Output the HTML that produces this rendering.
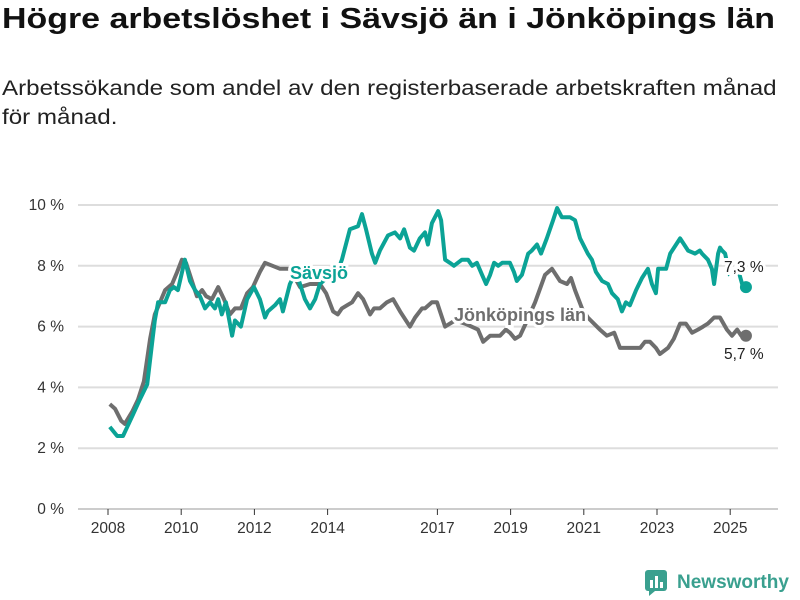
<!DOCTYPE html>
<html><head><meta charset="utf-8"><style>
body{margin:0;width:800px;height:600px;background:#fff;font-family:"Liberation Sans",sans-serif;overflow:hidden;position:relative}
#title{position:absolute;left:2px;top:3px;font-size:29px;font-weight:bold;color:#111;white-space:nowrap;transform:scaleX(1.17);transform-origin:left top}
#sub{position:absolute;left:2px;top:74px;font-size:21px;line-height:29px;color:#222;width:680px;transform:scaleX(1.15);transform-origin:left top}
svg{position:absolute;left:0;top:0}
</style></head><body>
<div id="title">Högre arbetslöshet i Sävsjö än i Jönköpings län</div>
<div id="sub">Arbetssökande som andel av den registerbaserade arbetskraften månad för månad.</div>
<svg id="chart" width="800" height="600"></svg>
<script>
const savsjoYears=[2008.05,2008.25,2008.41,2008.68,2008.87,2009.07,2009.20,2009.28,2009.37,2009.45,2009.56,2009.69,2009.80,2009.91,2010.10,2010.24,2010.38,2010.51,2010.65,2010.79,2010.92,2011.01,2011.11,2011.22,2011.33,2011.39,2011.47,2011.63,2011.80,2011.99,2012.15,2012.29,2012.37,2012.56,2012.70,2012.78,2012.97,2013.14,2013.38,2013.52,2013.66,2013.79,2014.07,2014.20,2014.39,2014.61,2014.83,2014.94,2015.05,2015.21,2015.30,2015.43,2015.65,2015.84,2015.98,2016.09,2016.25,2016.36,2016.52,2016.66,2016.74,2016.85,2017.02,2017.10,2017.21,2017.34,2017.45,2017.67,2017.84,2017.95,2018.08,2018.22,2018.33,2018.44,2018.55,2018.66,2018.77,2018.98,2019.09,2019.17,2019.31,2019.48,2019.58,2019.72,2019.83,2019.99,2020.16,2020.27,2020.40,2020.62,2020.76,2020.90,2021.11,2021.22,2021.33,2021.50,2021.66,2021.77,2021.93,2022.04,2022.15,2022.26,2022.43,2022.59,2022.75,2022.86,2022.97,2023.03,2023.25,2023.36,2023.63,2023.85,2024.04,2024.17,2024.23,2024.39,2024.50,2024.56,2024.67,2024.72,2024.78,2024.86,2024.99,2025.10,2025.21,2025.35,2025.43];
const savsjoValues=[2.7,2.4,2.4,3.1,3.6,4.1,5.4,6.2,6.8,6.8,6.8,7.2,7.3,7.2,8.2,7.5,7.2,7.0,6.6,6.8,6.6,6.9,6.4,6.8,6.1,5.7,6.2,6.0,6.9,7.3,6.9,6.3,6.5,6.7,6.9,6.5,7.4,7.8,6.9,6.6,6.9,7.4,7.7,7.6,8.2,9.2,9.3,9.7,9.2,8.4,8.1,8.5,9.0,9.1,8.9,9.2,8.6,8.5,8.9,9.1,8.7,9.4,9.8,9.5,8.2,8.1,8.0,8.2,8.2,8.0,8.1,7.7,7.4,7.7,8.1,8.0,8.1,8.1,7.8,7.5,7.7,8.4,8.5,8.7,8.4,8.9,9.5,9.9,9.6,9.6,9.5,8.9,8.4,8.2,7.8,7.5,7.4,7.1,6.9,6.5,6.8,6.7,7.2,7.6,7.9,7.4,7.1,7.9,7.9,8.4,8.9,8.5,8.4,8.5,8.4,8.2,7.9,7.4,8.4,8.6,8.5,8.4,7.7,7.7,7.9,7.3,7.3];
const lanYears=[2008.05,2008.19,2008.36,2008.46,2008.66,2008.82,2008.98,2009.15,2009.28,2009.42,2009.56,2009.75,2009.89,2010.02,2010.13,2010.32,2010.43,2010.57,2010.68,2010.84,2011.01,2011.17,2011.33,2011.47,2011.63,2011.80,2011.96,2012.15,2012.29,2012.70,2012.97,2013.25,2013.52,2013.79,2013.96,2014.15,2014.28,2014.39,2014.53,2014.67,2014.83,2014.97,2015.16,2015.27,2015.43,2015.62,2015.79,2015.98,2016.25,2016.39,2016.58,2016.66,2016.85,2016.99,2017.07,2017.21,2017.48,2017.75,2018.11,2018.25,2018.44,2018.71,2018.87,2018.98,2019.12,2019.26,2019.45,2019.67,2019.94,2020.13,2020.35,2020.54,2020.65,2020.76,2020.95,2021.11,2021.44,2021.63,2021.83,2021.99,2022.21,2022.54,2022.67,2022.81,2022.97,2023.08,2023.30,2023.46,2023.63,2023.79,2023.96,2024.12,2024.26,2024.39,2024.56,2024.72,2024.91,2025.05,2025.19,2025.30,2025.43];
const lanValues=[3.45,3.3,2.9,2.8,3.2,3.6,4.2,5.6,6.4,6.8,7.2,7.4,7.8,8.2,8.1,7.4,7.0,7.2,7.0,6.9,7.3,6.9,6.4,6.6,6.6,7.1,7.3,7.8,8.1,7.9,7.9,7.3,7.4,7.4,7.1,6.5,6.4,6.6,6.7,6.8,7.1,6.9,6.4,6.6,6.6,6.8,6.9,6.5,6.0,6.3,6.6,6.6,6.8,6.8,6.5,6.0,6.2,6.1,5.9,5.5,5.7,5.7,5.9,5.8,5.6,5.7,6.2,6.8,7.7,7.9,7.5,7.4,7.6,7.2,6.6,6.3,5.9,5.7,5.8,5.3,5.3,5.3,5.5,5.5,5.3,5.1,5.3,5.6,6.1,6.1,5.8,5.9,6.0,6.1,6.3,6.3,5.9,5.7,5.9,5.7,5.7];
const yTicks=[0,2,4,6,8,10];
const xTicks=[2008,2010,2012,2014,2017,2019,2021,2023,2025];

const NS='http://www.w3.org/2000/svg';
const svg=document.getElementById('chart');
const X=y=>108+(y-2008)*36.6;
const Y=v=>509-v*30.4;
function mk(tag,attrs,parent){const e=document.createElementNS(NS,tag);for(const k in attrs)e.setAttribute(k,attrs[k]);(parent||svg).appendChild(e);return e;}
yTicks.forEach(t=>{
  const g=mk('line',{x1:78,x2:778,y1:Y(t),y2:Y(t),stroke:t===0?'#ccc':'#ddd','stroke-width':2});
  
  
  const l=mk('text',{x:64,y:Y(t)+5,'text-anchor':'end','font-size':15.5,fill:'#333','font-family':'Liberation Sans, sans-serif'});
  l.textContent=t+' %';
  
  
});
xTicks.forEach(t=>{
  const tk=mk('line',{x1:X(t),x2:X(t),y1:509,y2:515,stroke:'#333','stroke-width':1});
  
  
  const l=mk('text',{x:X(t),y:533,'text-anchor':'middle','font-size':15.5,fill:'#333','font-family':'Liberation Sans, sans-serif'});
  l.textContent=t;
  
  
});
function series(xs,vs,color,name){
  const d=xs.map((x,i)=>(i?'L':'M')+X(x).toFixed(1)+','+Y(vs[i]).toFixed(1)).join('');
  const p=mk('path',{d:d,fill:'none',stroke:color,'stroke-width':4,'stroke-linejoin':'round'});
  
  
  const n=xs.length-1;
  const c=mk('circle',{cx:X(xs[n]),cy:Y(vs[n]),r:6,fill:color});
  
  
}
series(lanYears,lanValues,'#6e6e6e','jonkoping');
series(savsjoYears,savsjoValues,'#0ba396','savsjo');
function label(txt,x,y,color,size,weight,anchor,name){
  const t=mk('text',{x:x,y:y,'font-size':size,'font-weight':weight,fill:color,'text-anchor':anchor||'start',stroke:'#fff','stroke-width':6,'paint-order':'stroke','font-family':'Liberation Sans, sans-serif'});
  t.textContent=txt;
  
  
}
label('Sävsjö',290,279,'#0ba396',18,'bold','start','savsjo-label');
label('Jönköpings län',454,321,'#6e6e6e',18,'bold','start','jonkoping-label');
label('7,3 %',724,272,'#222',15.5,'normal','start','savsjo-value-label');
label('5,7 %',724,359,'#222',15.5,'normal','start','jonkoping-value-label');
</script>
<div style="position:absolute;left:645px;top:570px;display:flex;align-items:center">
<svg width="24" height="26" style="position:static"><rect x="0" y="0" width="22" height="21" rx="3" fill="#3aa08f"/><path d="M4 21 L4 26 L10 21Z" fill="#3aa08f"/><rect x="5" y="10" width="3" height="8" fill="#fff"/><rect x="10" y="6" width="3" height="12" fill="#fff"/><rect x="15" y="12" width="3" height="6" fill="#fff"/></svg>
<span style="font-size:19px;font-weight:bold;color:#3aa08f;margin-left:8px">Newsworthy</span></div>
</body></html>
